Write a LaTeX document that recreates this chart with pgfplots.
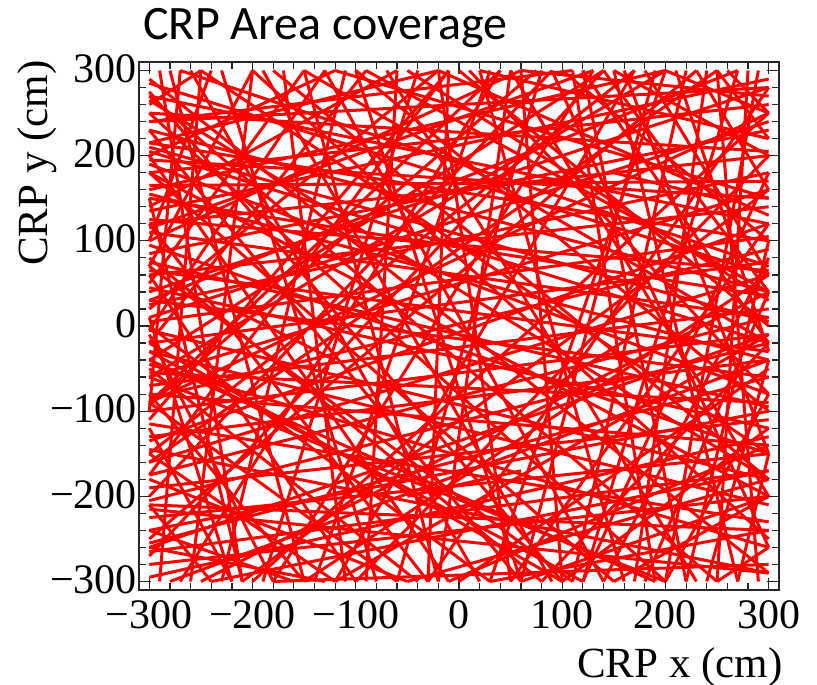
\documentclass[border=0pt]{standalone}
\usepackage{fontspec}
\setmainfont{Liberation Serif}
\newfontfamily\titlefont{Carlito}
\usepackage{pgfplots}
\usepackage{pgfplotstable}
\pgfplotsset{compat=1.18}

% Reconstructed track segments crossing the CRP (start and end point, cm)
\pgfplotstableread{
x1 y1 x2 y2
-300 270 300 120
-300 240 300 280
-300 205 300 -20
-300 180 300 260
-300 150 300 35
-300 120 300 200
-300 95 300 -150
-300 60 300 140
-300 30 300 -60
-300 10 300 240
-300 -20 300 75
-300 -45 300 -260
-300 -70 300 20
-300 -100 300 -10
-300 -130 300 -40
-300 -160 300 60
-300 -190 300 -110
-300 -225 300 -150
-300 -255 300 -60
-300 -280 300 -200
-300 230 300 40
-300 -5 300 -180
-300 165 300 170
-300 -115 300 -230
-300 75 300 -95
-300 -60 300 160
-300 250 300 205
-300 -145 300 -290
-300 200 -120 300
-300 100 60 300
-300 -40 140 300
-300 20 -20 300
-300 260 -250 300
-300 -150 170 300
-300 140 -60 300
-300 -250 230 300
-300 50 -150 300
-300 -90 40 300
-300 -93 75 300
-300 -150 -120 -300
-300 -50 -40 -300
-300 80 80 -300
-300 -210 -240 -300
-300 180 150 -300
-300 -10 -180 -300
-300 120 -30 -300
-300 270 250 -300
-300 -120 -220 -300
-280 300 -150 -300
-200 300 -260 -300
-100 300 60 -300
-40 300 -190 -300
20 300 160 -300
80 300 -60 -300
150 300 270 -300
200 300 30 -300
250 300 290 -300
-230 300 -80 -300
60 300 100 -300
-150 300 -20 -300
120 300 220 -300
270 300 120 -300
-60 300 -90 -300
170 300 -120 -300
-260 300 20 -300
-100 300 300 -100
0 300 300 0
100 300 300 100
150 300 300 200
50 300 300 -200
200 300 300 250
-200 300 300 -250
230 300 300 160
-50 300 300 30
120 300 300 -20
-100 -300 300 200
0 -300 300 -50
100 -300 300 -120
-200 -300 300 250
50 -300 300 120
150 -300 300 -200
200 -300 300 -80
-50 -300 300 -180
-250 -300 300 40
250 -300 300 -260
-300 285 300 60
-300 215 300 100
-300 190 300 -80
-300 135 300 290
-300 110 300 10
-300 85 300 230
-300 45 300 -120
-300 -30 300 -210
-300 -85 300 90
-300 -175 300 10
-300 -205 300 -20
-300 -240 300 -100
-300 -265 300 -170
-300 -295 300 -130
-300 155 300 -40
-300 -135 300 120
-300 5 300 105
-300 65 300 -30
-300 -80 300 -140
-300 25 300 180
-300 215 -20 300
-300 -200 90 300
-300 160 200 300
-300 70 -200 300
-300 -110 -10 300
-300 30 270 300
-300 240 110 300
-300 -20 -90 300
-300 60 -100 -300
-300 -80 -150 -300
-300 230 60 -300
-300 0 30 -300
-300 -180 -50 -300
-300 150 -210 -300
-300 -240 -160 -300
-300 -30 120 -300
-290 300 -210 -300
-170 300 -110 -300
-130 300 140 -300
-10 300 -30 -300
40 300 -270 -300
110 300 190 -300
190 300 60 -300
240 300 170 -300
290 300 200 -300
-250 300 -290 -300
-70 300 230 -300
30 300 -140 -300
-150 300 300 -20
-20 300 300 130
60 300 300 270
180 300 300 60
-250 300 300 -150
90 300 300 -260
250 300 300 220
-120 300 300 150
20 300 300 220
160 300 300 -150
-300 -60 200 300
-300 100 -240 300
-150 -300 300 60
-30 -300 300 280
80 -300 300 -20
180 -300 300 40
270 -300 300 -150
-280 -300 300 -40
30 -300 300 -240
120 -300 300 180
-180 -300 300 -280
220 -300 300 100
-60 -300 -300 -90
100 -300 -300 -20
200 -300 -300 -60
-130 -300 -300 -260
-300 -210 300 -240
-300 195 300 150
-300 -55 300 -90
-300 125 300 65
-50 -200 60 -170
150 180 250 150
-220 20 -120 -40
80 -80 170 -10
-300 275 100 -300
-300 -270 140 300
-300 290 300 -290
-300 180 300 -200
-300 -160 250 300
-300 40 300 280
-300 -100 -270 300
-180 300 300 -180
-90 300 300 40
10 300 300 -80
140 300 300 40
210 300 300 -30
260 300 300 250
-270 300 300 70
-210 -300 300 160
-120 -300 300 -10
-10 -300 300 -140
60 -300 300 -200
140 -300 300 80
240 -300 300 -40
-240 -300 300 -170
-300 70 110 -300
-300 10 -220 -300
-300 200 -10 -300
-300 250 200 -300
-300 -40 190 -300
-110 300 -230 -300
-20 300 50 -300
50 300 -20 -300
130 300 -180 -300
220 300 110 -300
280 300 250 -300
-190 300 90 -300
-300 -175 -10 300
-300 115 130 300
-300 -5 -130 300
-300 -215 300 -290
-300 265 300 -180
-300 -90 300 250
-300 -260 300 -10
-300 210 300 5
}\tracks

\begin{document}
\begin{tikzpicture}[x=1pt,y=1pt]
\useasboundingbox (0,0) rectangle (408.5,342);
\begin{axis}[
  at={(69.5pt,47pt)}, anchor=south west,
  scale only axis, width=320pt, height=264pt,
  xmin=-310, xmax=310, ymin=-310, ymax=310,
  xtick={-300,-200,-100,0,100,200,300},
  ytick={-300,-200,-100,0,100,200,300},
  xticklabels={\mbox{−300},\mbox{−200},\mbox{−100},\mbox{0},\mbox{100},\mbox{200},\mbox{300}},
  yticklabels={\mbox{−300},\mbox{−200},\mbox{−100},\mbox{0},\mbox{100},\mbox{200},\mbox{300}},
  minor x tick num=4, minor y tick num=4,
  tick align=inside, major tick length=6pt, minor tick length=3.5pt,
  tick style={black!85, line width=0.6pt},
  axis line style={black!85, line width=0.9pt},
  ticklabel style={font=\fontsize{21}{23}\selectfont},
  xticklabel style={yshift=-1.5pt},
  yticklabel style={xshift=2.5pt, yshift=1pt},
]
\addplot[red, line width=1.5pt,
  quiver={u=\thisrow{x2}-\thisrow{x1}, v=\thisrow{y2}-\thisrow{y1}}]
  table[x=x1, y=y1] {\tracks};
\end{axis}
\node[anchor=base west, inner sep=0pt, font=\titlefont\fontsize{24}{27}\selectfont]
  at (71.5,322) {CRP Area coverage};
\node[anchor=base east, inner sep=0pt, font=\fontsize{21.5}{24}\selectfont]
  at (391.5,3.5) {CRP x (cm)};
\node[anchor=base east, rotate=90, inner sep=0pt, font=\fontsize{21.5}{24}\selectfont]
  at (24,312) {CRP y (cm)};
\end{tikzpicture}
\end{document}
